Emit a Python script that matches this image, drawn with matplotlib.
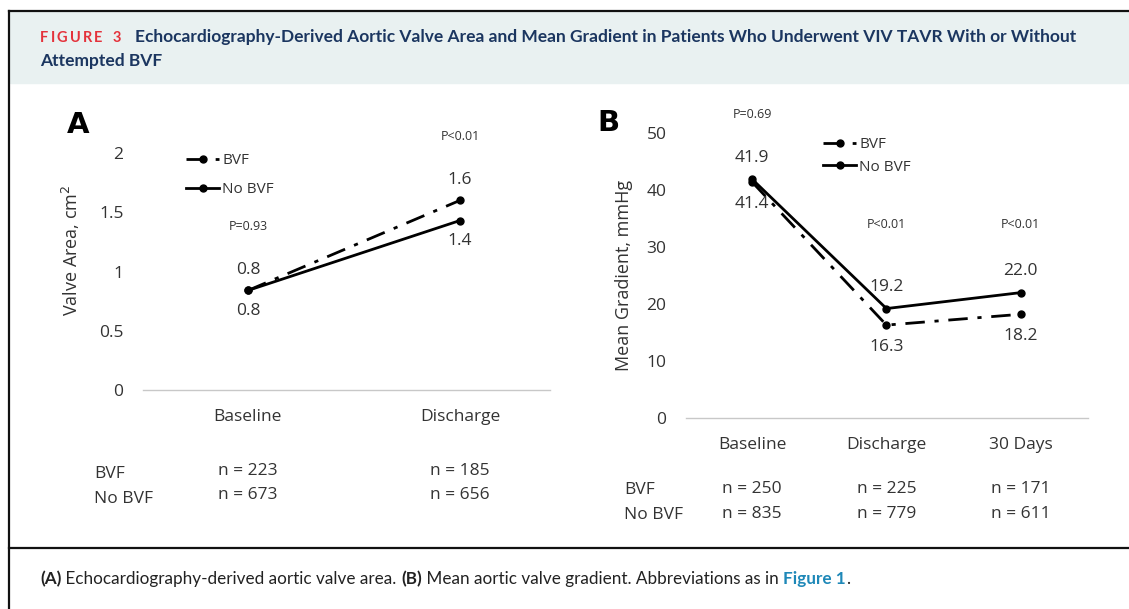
import numpy as np
import matplotlib
matplotlib.use("Agg")
import matplotlib.pyplot as plt
from matplotlib.lines import Line2D
from matplotlib.patches import Rectangle

# ----------------------------
# Data
# ----------------------------
cats_a = ["Baseline", "Discharge"]
area_bvf = [0.84, 1.60]
area_no_bvf = [0.84, 1.43]
p_a = ["P=0.93", "P<0.01"]
n_a_bvf = [223, 185]
n_a_no_bvf = [673, 656]

cats_b = ["Baseline", "Discharge", "30 Days"]
grad_bvf = [41.4, 16.3, 18.2]
grad_no_bvf = [41.9, 19.2, 22.0]
p_b = ["P=0.69", "P<0.01", "P<0.01"]
n_b_bvf = [250, 225, 171]
n_b_no_bvf = [835, 779, 611]

# ----------------------------
# Figure in pixel space
# ----------------------------
W, H = 1129, 609
fig = plt.figure(figsize=(W / 100, H / 100), dpi=100)
plt.rcParams["font.family"] = ["Open Sans", "DejaVu Sans"]


def fx(x):
    return x / W


def fy(y):
    return 1 - y / H


def add_axes_px(x0, y_bottom, x1, y_top):
    return fig.add_axes([fx(x0), fy(y_bottom), (x1 - x0) / W, (y_bottom - y_top) / H])


# frame + header
fig.add_artist(Rectangle((fx(10), fy(83)), 1, (83 - 12) / H, transform=fig.transFigure,
                         color="#e9f1f1", zorder=0))
fig.add_artist(Line2D([fx(9), 1], [fy(11), fy(11)], color="#111111", lw=1.6))
fig.add_artist(Line2D([fx(9), fx(9)], [fy(11), 0], color="#111111", lw=1.6))
fig.add_artist(Line2D([fx(9), 1], [fy(548), fy(548)], color="#111111", lw=1.6))

renderer = fig.canvas.get_renderer()


def text_run(x, y, parts, tracking=0, **kw):
    # draw consecutive text pieces with different styles on one baseline
    for s, style in parts:
        opts = dict(kw)
        opts.update(style)
        t = fig.text(fx(x), fy(y), s, va="center", ha="left", **opts)
        bb = t.get_window_extent(renderer)
        x += bb.width + tracking
    return x


navy = "#1b3660"
# letter-spaced red label
red_style = dict(color="#e4323b", fontsize=10.5, fontweight="bold", family="Lato")
text_run(40, 38, [(ch, red_style) for ch in "FIGURE"], tracking=2.2)
text_run(113, 38, [("3", red_style)])
title_style = dict(color=navy, fontsize=12.5, fontweight="bold", family="Lato")
text_run(135, 37, [("Echocardiography-Derived Aortic Valve Area and Mean Gradient in Patients "
                    "Who Underwent VIV TAVR With or Without", title_style)])
text_run(40, 61, [("Attempted BVF", title_style)])

text_run(40, 579, [("(A)", dict(fontweight="bold")), (" Echocardiography-derived aortic valve area. ", {}),
                   ("(B)", dict(fontweight="bold")), (" Mean aortic valve gradient. Abbreviations as in ", {}),
                   ("Figure 1", dict(fontweight="bold", color="#1e88b8")), (".", {})],
         fontsize=12.3, family="Lato", color="#222222")

# ----------------------------
# Shared styling
# ----------------------------
DASHDOT = (0, (7, 3.5, 1.5, 3.5))
TXT = "#333333"


def style_axes(ax):
    for s in ["top", "right", "left"]:
        ax.spines[s].set_visible(False)
    ax.spines["bottom"].set_color("#c8c8c8")
    ax.spines["bottom"].set_linewidth(1.0)
    ax.tick_params(length=0, labelsize=12.5, labelcolor=TXT)
    ax.patch.set_alpha(0)


# ----------------------------
# Panel A
# ----------------------------
axA = add_axes_px(143, 390, 550, 153)
xa = np.arange(len(cats_a))
axA.plot(xa, area_bvf, color="black", lw=2, ls=DASHDOT, marker="o", ms=5, label="BVF", clip_on=False)
axA.plot(xa, area_no_bvf, color="black", lw=2, marker="o", ms=5, label="No BVF", clip_on=False)
axA.set_xlim(-0.495, 1.425)
axA.set_ylim(0, 2)
axA.set_yticks([0, 0.5, 1, 1.5, 2], ["0", "0.5", "1", "1.5", "2"])
axA.set_xticks([])
style_axes(axA)
axA.tick_params(axis="y", pad=14)
for i in xa:
    axA.annotate(f"{area_bvf[i]:.1f}", (i, area_bvf[i]), xytext=(0, 14.5), textcoords="offset points",
                 ha="center", va="center", fontsize=12.5, color=TXT)
    axA.annotate(f"{area_no_bvf[i]:.1f}", (i, area_no_bvf[i]), xytext=(0, -14.5), textcoords="offset points",
                 ha="center", va="center", fontsize=12.5, color=TXT)
    axA.text(i, -0.23, cats_a[i], ha="center", va="center", fontsize=12.5, color=TXT)
axA.text(0, 1.38, p_a[0], ha="center", va="center", fontsize=9, color=TXT)
axA.text(1, 2.14, p_a[1], ha="center", va="center", fontsize=9, color=TXT)
axA.set_ylabel("Valve Area, cm$^2$", fontsize=13, color=TXT, labelpad=12)
axA.yaxis.label.set_y(0.59)
axA.legend(loc="center left", bbox_to_anchor=(fx(172), fy(175)), bbox_transform=fig.transFigure,
           frameon=False, fontsize=11, handlelength=2.2, handletextpad=0.2, labelspacing=0.9,
           labelcolor=TXT)
fig.text(fx(78), fy(125), "A", fontsize=21, fontweight="bold", family="DejaVu Sans",
         ha="center", va="center")
# sample sizes A
fig.text(fx(94), fy(474), "BVF", fontsize=12.5, color=TXT, va="center")
fig.text(fx(94), fy(499), "No BVF", fontsize=12.5, color=TXT, va="center")
for i in xa:
    xp = axA.transData.transform((i, 0))[0]
    fig.text(xp / W, fy(471), f"n = {n_a_bvf[i]}", fontsize=12.5, color=TXT, ha="center", va="center")
    fig.text(xp / W, fy(495), f"n = {n_a_no_bvf[i]}", fontsize=12.5, color=TXT, ha="center", va="center")

# ----------------------------
# Panel B
# ----------------------------
axB = add_axes_px(686, 418, 1088, 133)
xb = np.arange(len(cats_b))
axB.plot(xb, grad_bvf, color="black", lw=2, ls=DASHDOT, marker="o", ms=5, label="BVF", clip_on=False)
axB.plot(xb, grad_no_bvf, color="black", lw=2, marker="o", ms=5, label="No BVF", clip_on=False)
axB.set_xlim(-0.492, 2.5)
axB.set_ylim(0, 50)
axB.set_yticks([0, 10, 20, 30, 40, 50])
axB.set_xticks([])
style_axes(axB)
axB.tick_params(axis="y", pad=14)
for i in xb:
    axB.annotate(f"{grad_no_bvf[i]:.1f}", (i, grad_no_bvf[i]), xytext=(0, 15.5), textcoords="offset points",
                 ha="center", va="center", fontsize=12.5, color=TXT)
    axB.annotate(f"{grad_bvf[i]:.1f}", (i, grad_bvf[i]), xytext=(0, -15.5), textcoords="offset points",
                 ha="center", va="center", fontsize=12.5, color=TXT)
    axB.text(i, -4.7, cats_b[i], ha="center", va="center", fontsize=12.5, color=TXT)
axB.text(0, 53.2, p_b[0], ha="center", va="center", fontsize=9, color=TXT)
for i in [1, 2]:
    axB.text(i, 34.0, p_b[i], ha="center", va="center", fontsize=9, color=TXT)
axB.set_ylabel("Mean Gradient, mmHg", fontsize=13, color=TXT, labelpad=10)
axB.legend(loc="center left", bbox_to_anchor=(fx(809), fy(156)), bbox_transform=fig.transFigure,
           frameon=False, fontsize=11, handlelength=2.2, handletextpad=0.2, labelspacing=0.5,
           labelcolor=TXT)
fig.text(fx(608), fy(123), "B", fontsize=21, fontweight="bold", family="DejaVu Sans",
         ha="center", va="center")
# sample sizes B
fig.text(fx(624), fy(490), "BVF", fontsize=12.5, color=TXT, va="center")
fig.text(fx(624), fy(515), "No BVF", fontsize=12.5, color=TXT, va="center")
for i in xb:
    xp = axB.transData.transform((i, 0))[0]
    fig.text(xp / W, fy(489), f"n = {n_b_bvf[i]}", fontsize=12.5, color=TXT, ha="center", va="center")
    fig.text(xp / W, fy(514), f"n = {n_b_no_bvf[i]}", fontsize=12.5, color=TXT, ha="center", va="center")

fig.savefig("out.png", dpi=100)
